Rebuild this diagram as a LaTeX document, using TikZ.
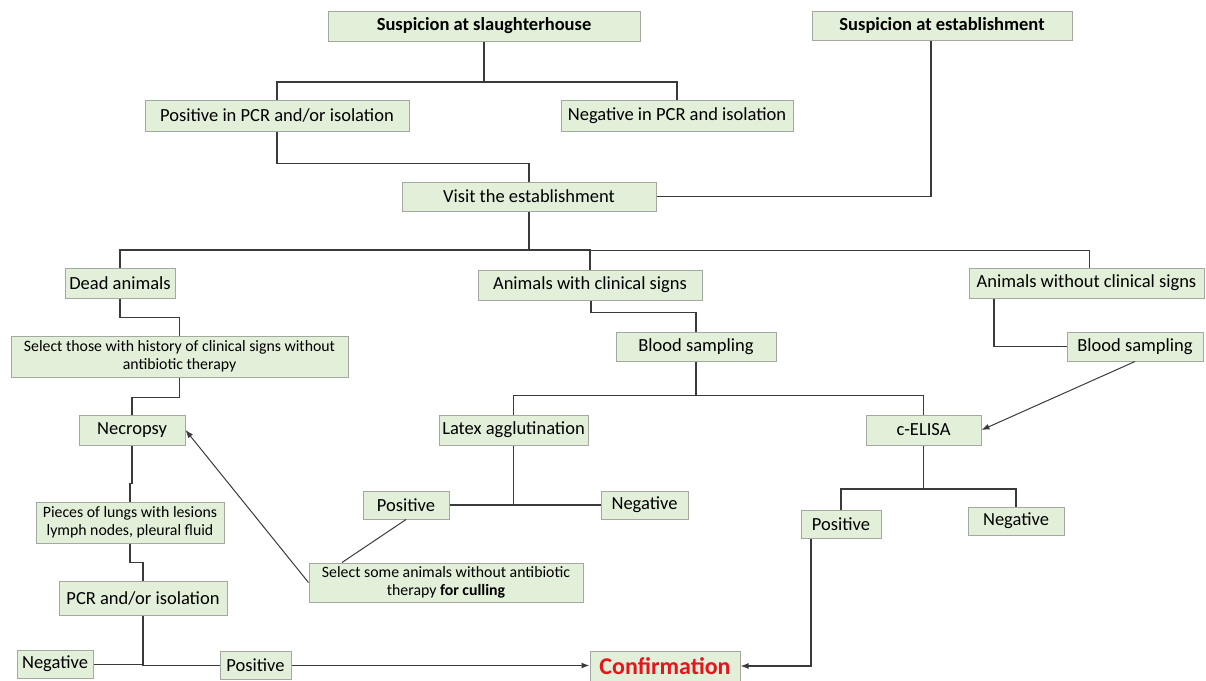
\documentclass[tikz,border=0pt]{standalone}
\usepackage{fontspec}
\setmainfont{Carlito}
\usetikzlibrary{arrows.meta,calc}
\definecolor{boxfill}{HTML}{E2EFD9}
\definecolor{boxline}{HTML}{A3A8A0}
\definecolor{conn}{HTML}{3A3A3A}
\definecolor{confred}{HTML}{E8141B}
\tikzset{
  bx/.style={draw=boxline, fill=boxfill, line width=1pt, inner sep=0pt, align=center,
    font=\fontsize{18.5}{21}\selectfont},
  smallbx/.style={bx, font=\fontsize{15.8}{18}\selectfont},
  ln/.style={draw=conn, line width=1.3pt},
  thinln/.style={draw=conn, line width=1pt},
  arr/.style={ln, -{Latex[length=8pt,width=6pt]}},
  thinarr/.style={thinln, -{Latex[length=8pt,width=6pt]}},
}
\begin{document}
\begin{tikzpicture}[x=1pt,y=-1pt]
\useasboundingbox (0,0) rectangle (1206,680);
% nodes
\node[bx, minimum width=312, minimum height=30, font=\bfseries\fontsize{18.5}{21}\selectfont] (slh) at (484,26) {Suspicion at slaughterhouse};
\node[bx, minimum width=260, minimum height=29, font=\bfseries\fontsize{18.5}{21}\selectfont] (est) at (942,25.5) {Suspicion at establishment};
\node[bx, minimum width=264, minimum height=31] (pos1) at (277,115.5) {Positive in PCR and/or isolation};
\node[bx, minimum width=232, minimum height=31] (neg1) at (677,115.5) {Negative in PCR and isolation};
\node[bx, minimum width=254, minimum height=29] (visit) at (529,196.5) {Visit the establishment};
\node[bx, minimum width=110, minimum height=30] (dead) at (120,283) {Dead animals};
\node[bx, minimum width=224, minimum height=30] (with) at (590,285) {Animals with clinical signs};
\node[bx, minimum width=235, minimum height=30] (without) at (1086.5,283) {Animals without clinical signs};
\node[smallbx, minimum width=337, minimum height=41] (sel1) at (179.5,356.5) {Select those with history of clinical signs without\\antibiotic therapy};
\node[bx, minimum width=160, minimum height=29] (blood1) at (696,346.5) {Blood sampling};
\node[bx, minimum width=136, minimum height=29] (blood2) at (1135,346.5) {Blood sampling};
\node[bx, minimum width=106, minimum height=30] (necr) at (132,430) {Necropsy};
\node[bx, minimum width=149, minimum height=30] (latex) at (513.5,430) {Latex agglutination};
\node[bx, minimum width=115, minimum height=30] (elisa) at (923.5,430) {c-ELISA};
\node[bx, minimum width=86, minimum height=28] (posl) at (406,505) {Positive};
\node[bx, minimum width=87, minimum height=28] (negl) at (644.5,505) {Negative};
\node[bx, minimum width=80, minimum height=28] (pose) at (841,524) {Positive};
\node[bx, minimum width=96, minimum height=28] (nege) at (1016,521) {Negative};
\node[smallbx, minimum width=188, minimum height=41] (pieces) at (130,522.5) {Pieces of lungs with lesions\\lymph nodes, pleural fluid};
\node[smallbx, minimum width=274, minimum height=39] (selsome) at (446,582.5) {Select some animals without antibiotic\\therapy \textbf{for culling}};
\node[bx, minimum width=168, minimum height=34] (pcr) at (143,598) {PCR and/or isolation};
\node[bx, minimum width=76, minimum height=28] (negb) at (55,664) {Negative};
\node[bx, minimum width=71, minimum height=28] (posb) at (255.5,665.5) {Positive};
\node[bx, minimum width=150, minimum height=30, font=\bfseries\fontsize{24}{26}\selectfont, text=confred] (conf) at (665,666) {Confirmation};
% junctions
\coordinate (j1) at (484,82);
\coordinate (j2) at (529,250);
\coordinate (j3) at (696,395.5);
\coordinate (j5) at (923.5,489);
% connectors
\draw[ln] (slh.south) -- (j1);
\draw[ln] (pos1.north) |- (j1) -| (neg1.north);
\draw[ln] (pos1.south) -- ++(0,32) -| (visit.north);
\draw[ln] ([xshift=-11pt]est.south) |- (visit.east);
\draw[ln] (visit.south) -- (j2);
\draw[ln] (dead.north) |- (j2) -| (with.north);
\draw[thinln] (j2) -| ([xshift=3pt]without.north);
\draw[ln] (dead.south) -- ++(0,19) -| (sel1.north);
\draw[ln] (sel1.south) -- ++(0,20) -| (necr.north);
\draw[ln] (necr.south) -- ++(0,38) -| (pieces.north);
\draw[ln] (pieces.south) -- ++(0,19) -| (pcr.north);
\draw[ln] (pcr.south) |- (posb.west);
\draw[thinln] (negb.east) -- (pcr.south |- negb.east);
\draw[arr] (posb.east) -- (posb.east -| conf.west);
\draw[ln] ([xshift=1pt]with.south) -- ++(0,12) -| (blood1.north);
\draw[ln] (blood1.south) -- (j3);
\draw[ln] (latex.north) |- (j3) -| (elisa.north);
\draw[ln] (latex.south) -- (latex.south |- posl.east);
\draw[ln] (posl.east) -- (negl.west);
\draw[thinln] (posl.south) -- ([xshift=-104pt]selsome.north);
\draw[thinarr] (selsome.west) -- (necr.east);
\draw[ln] ([xshift=-92.5pt]without.south) |- (blood2.west);
\draw[thinarr] (blood2.south) -- (elisa.east);
\draw[ln] (elisa.south) -- (j5);
\draw[ln] (pose.north) |- (j5) -| (nege.north);
\draw[arr] ([xshift=-30pt]pose.south) |- (conf.east);
\end{tikzpicture}
\end{document}
